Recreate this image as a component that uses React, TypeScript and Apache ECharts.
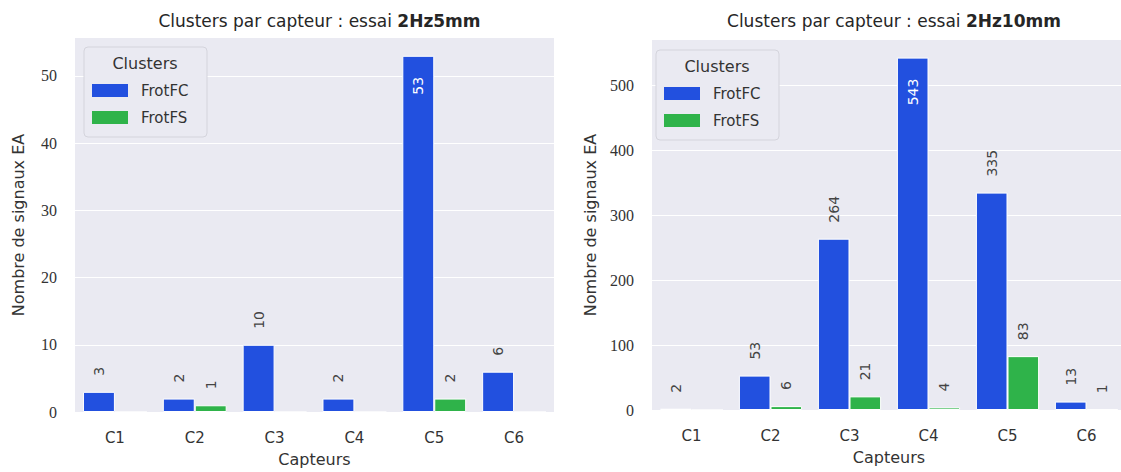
import React, { useEffect, useRef } from "react";
import * as echarts from "echarts";

const categories = ["C1", "C2", "C3", "C4", "C5", "C6"];
const seriesNames = ["FrotFC", "FrotFS"];
const leftFC = [3, 2, 10, 2, 53, 6];
const leftFS = [0, 1, 0, 0, 2, 0];
const rightFC = [2, 53, 264, 543, 335, 13];
const rightFS = [0, 6, 21, 4, 83, 1];
const leftTitleBold = "2Hz5mm";
const rightTitleBold = "2Hz10mm";
const leftTicks = { interval: 10, max: 53 * 1.05 };
const rightTicks = { interval: 100, max: 543 * 1.05 };

const BLUE = "#2250df";
const GREEN = "#2fb34a";
const BG = "#eaeaf2";
const SANS = "DejaVu Sans";
const SERIF = "Liberation Serif";

const G1 = { left: 75, top: 38, width: 479, height: 374 };
const G2 = { left: 652, top: 40, width: 474, height: 370 };

function makeData(values: number[], maxVal: number) {
  return values.map((v) => {
    if (v === 0) return { value: v, label: { show: false } };
    if (v === maxVal)
      return {
        value: v,
        label: {
          show: true,
          position: "insideTop",
          distance: 21,
          rotate: 90,
          align: "right",
          verticalAlign: "middle",
          color: "#ffffff",
        },
      };
    return {
      value: v,
      label: {
        show: true,
        position: "top",
        distance: 16,
        rotate: 90,
        align: "left",
        verticalAlign: "middle",
        color: "#444444",
      },
    };
  });
}

function barSeries(name: string, values: number[], color: string, idx: number, maxVal: number) {
  return {
    type: "bar",
    name,
    xAxisIndex: idx,
    yAxisIndex: idx,
    data: makeData(values, maxVal),
    barWidth: "40%",
    barGap: "0%",
    itemStyle: { color, borderColor: "#ffffff", borderWidth: 1 },
    label: { fontFamily: SANS, fontSize: 14 },
  };
}

function xAxis(idx: number) {
  return {
    type: "category",
    gridIndex: idx,
    data: categories,
    name: "Capteurs",
    nameLocation: "middle",
    nameGap: 39,
    nameTextStyle: { fontFamily: SANS, fontSize: 16, color: "#333333" },
    axisLine: { show: false },
    axisTick: { show: false },
    axisLabel: { fontFamily: SANS, fontSize: 15, color: "#333333", margin: 18 },
    splitLine: { show: false },
  };
}

function yAxis(idx: number, ticks: { interval: number; max: number }, gap: number) {
  return {
    type: "value",
    gridIndex: idx,
    min: 0,
    max: ticks.max,
    interval: ticks.interval,
    name: "Nombre de signaux EA",
    nameLocation: "middle",
    nameGap: gap,
    nameTextStyle: { fontFamily: SANS, fontSize: 16, color: "#333333" },
    axisLine: { show: false },
    axisTick: { show: false },
    axisLabel: {
      fontFamily: SERIF,
      fontSize: 16,
      color: "#333333",
      margin: 18,
      showMaxLabel: false,
    },
    splitLine: {
      show: true,
      showMaxLine: false,
      showMinLine: false,
      lineStyle: { color: "#ffffff", width: 1.2 },
    },
  };
}

function legendBox(x: number, y: number) {
  return [
    {
      type: "rect",
      shape: { x, y, width: 123, height: 90, r: 4 },
      style: { fill: BG, stroke: "#d4d4dc", lineWidth: 1 },
      z: 10,
    },
    {
      type: "text",
      x: x + 61,
      y: y + 16,
      style: {
        text: "Clusters",
        fontFamily: SANS,
        fontSize: 16,
        fill: "#333333",
        align: "center",
        verticalAlign: "middle",
      },
      z: 11,
    },
  ];
}

function legend(x: number, y: number) {
  return {
    orient: "vertical",
    left: x,
    top: y,
    padding: 0,
    data: seriesNames,
    icon: "rect",
    itemWidth: 36,
    itemHeight: 13,
    itemGap: 12,
    itemStyle: { borderWidth: 0 },
    textStyle: { fontFamily: SANS, fontSize: 15, color: "#333333", padding: [0, 0, 0, 8] },
    selectedMode: false,
    z: 12,
  };
}

function title(cx: number, bold: string) {
  return {
    left: cx,
    top: 7,
    textAlign: "center",
    text: "{n|Clusters par capteur : essai }{b|" + bold + "}",
    textStyle: {
      fontWeight: "normal",
      rich: {
        n: { fontFamily: SANS, fontSize: 17, fontWeight: "normal", color: "#262626" },
        b: { fontFamily: SANS, fontSize: 17, fontWeight: "bold", color: "#262626" },
      },
    },
  };
}

export default function App() {
  const ref = useRef<HTMLDivElement>(null);
  useEffect(() => {
    if (!ref.current) return;
    const chart = echarts.init(ref.current, null, { renderer: "svg" });
    const lMax = Math.max(...leftFC, ...leftFS);
    const rMax = Math.max(...rightFC, ...rightFS);
    chart.setOption({
      animation: false,
      backgroundColor: "#ffffff",
      title: [title(G1.left + G1.width / 2, leftTitleBold), title(G2.left + G2.width / 2, rightTitleBold)],
      grid: [
        { ...G1, backgroundColor: BG, show: true, borderWidth: 0, outerBoundsMode: "none", containLabel: false },
        { ...G2, backgroundColor: BG, show: true, borderWidth: 0, outerBoundsMode: "none", containLabel: false },
      ],
      xAxis: [xAxis(0), xAxis(1)],
      yAxis: [yAxis(0, leftTicks, 49), yAxis(1, rightTicks, 54)],
      legend: [legend(92, 83), legend(664, 86)],
      graphic: [...legendBox(84, 47), ...legendBox(656, 50)],
      series: [
        barSeries(seriesNames[0], leftFC, BLUE, 0, lMax),
        barSeries(seriesNames[1], leftFS, GREEN, 0, lMax),
        barSeries(seriesNames[0], rightFC, BLUE, 1, rMax),
        barSeries(seriesNames[1], rightFS, GREEN, 1, rMax),
      ],
    });
    return () => chart.dispose();
  }, []);
  return (
    <div
      ref={ref}
      style={{ position: "absolute", left: 0, top: 0, width: 1121, height: 472 }}
    />
  );
}
